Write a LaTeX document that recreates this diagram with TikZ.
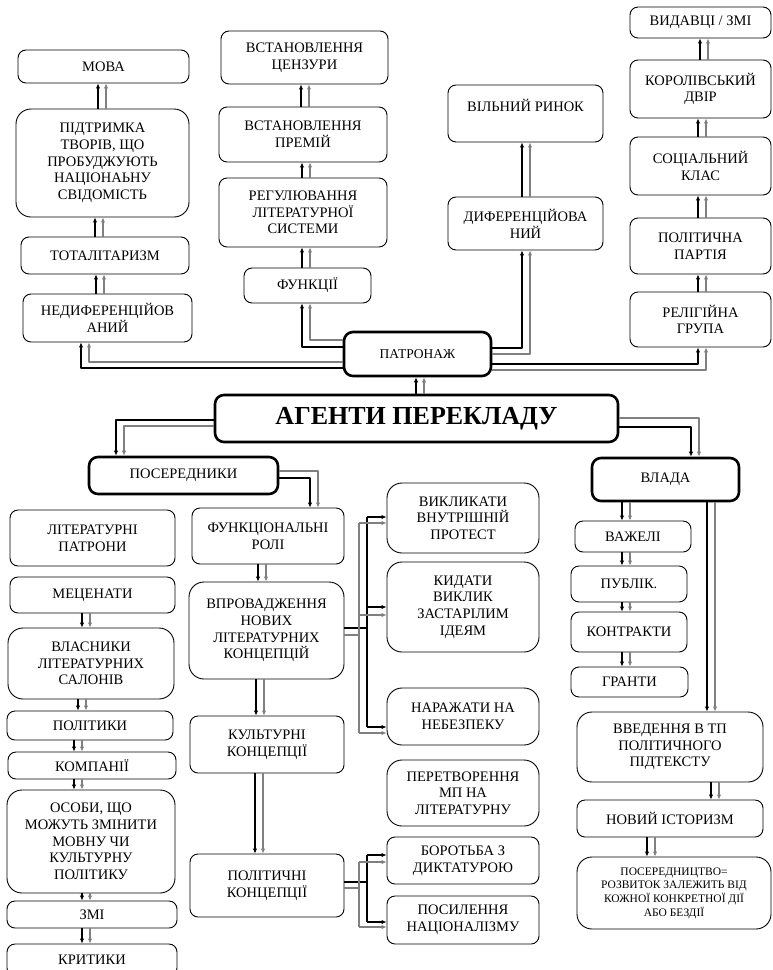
\documentclass[tikz,border=0pt]{standalone}
\usepackage{fontspec}
\setmainfont{Liberation Serif}
\usepackage{tikz}
\usetikzlibrary{arrows.meta,positioning,calc}

\definecolor{linegray}{HTML}{808080}
\tikzset{
  box/.style={draw,line width=0.9pt,rounded corners=8pt,align=center,inner sep=1pt,
    font=\fontsize{14.5}{16.7}\selectfont},
  tall/.style={box,rounded corners=15pt},
  thickbox/.style={box,line width=2.6pt,rounded corners=9pt},
  blk/.style={line width=1.3pt,black,-{Latex[length=5pt,width=4.5pt]}},
  gry/.style={line width=1.3pt,linegray,-{Latex[length=5pt,width=4.5pt]}},
  blkline/.style={line width=1.3pt,black},
  gryline/.style={line width=1.3pt,linegray},
}

\begin{document}
\begin{tikzpicture}[x=1pt,y=-1pt,line join=round]
  \useasboundingbox (0,0) rectangle (773,970);
  % patronage branch
  \node[box,minimum width=171pt,minimum height=33pt] (mova) at (103.5,66.5) {МОВА};
  \node[tall,minimum width=173pt,minimum height=108pt] (pidtr) at (102.5,163) {ПІДТРИМКА\\ТВОРІВ, ЩО\\ПРОБУДЖУЮТЬ\\НАЦІОНАЬНУ\\СВІДОМІСТЬ};
  \node[box,minimum width=168pt,minimum height=37pt] (total) at (105,255.5) {ТОТАЛІТАРИЗМ};
  \node[box,minimum width=169pt,minimum height=48pt] (nedyf) at (107.5,318) {НЕДИФЕРЕНЦІЙОВ\\АНИЙ};
  \node[box,minimum width=167pt,minimum height=53pt] (cenz) at (304.5,57.5) {ВСТАНОВЛЕННЯ\\ЦЕНЗУРИ};
  \node[box,minimum width=168pt,minimum height=55pt] (prem) at (303,134.5) {ВСТАНОВЛЕННЯ\\ПРЕМІЙ};
  \node[box,minimum width=168pt,minimum height=69pt] (regul) at (303,212.5) {РЕГУЛЮВАННЯ\\ЛІТЕРАТУРНОЇ\\СИСТЕМИ};
  \node[box,minimum width=127pt,minimum height=35pt] (funk) at (307.5,285.5) {ФУНКЦІЇ};
  \node[thickbox,minimum width=147pt,minimum height=44pt,font=\fontsize{13.5}{16}\selectfont] (patr) at (417.5,354) {ПАТРОНАЖ};
  \node[box,minimum width=155pt,minimum height=57pt] (rynok) at (525.5,113.5) {ВІЛЬНИЙ РИНОК\\~};
  \node[box,minimum width=155pt,minimum height=53pt] (dyf) at (525.5,223.5) {ДИФЕРЕНЦІЙОВА\\НИЙ};
  \node[box,minimum width=141pt,minimum height=31pt] (vyd) at (700.5,22.5) {ВИДАВЦІ / ЗМІ};
  \node[box,minimum width=141pt,minimum height=58pt] (korol) at (700.5,89) {КОРОЛІВСЬКИЙ\\ДВІР};
  \node[box,minimum width=141pt,minimum height=58pt] (soc) at (700.5,166) {СОЦІАЛЬНИЙ\\КЛАС};
  \node[box,minimum width=141pt,minimum height=56pt] (polit) at (700.5,246) {ПОЛІТИЧНА\\ПАРТІЯ};
  \node[box,minimum width=141pt,minimum height=55pt] (relig) at (700.5,319.5) {РЕЛІГІЙНА\\ГРУПА};
  % root
  \node[thickbox,minimum width=403pt,minimum height=47pt,font=\fontsize{26}{30}\selectfont\bfseries] (agent) at (416.5,418.5) {АГЕНТИ ПЕРЕКЛАДУ};
  % mediators
  \node[thickbox,minimum width=189pt,minimum height=37pt] (poser) at (183.5,475.5) {ПОСЕРЕДНИКИ};
  \node[box,minimum width=165pt,minimum height=56pt] (patrony) at (92.5,538) {ЛІТЕРАТУРНІ\\ПАТРОНИ};
  \node[box,minimum width=165pt,minimum height=36pt] (mecen) at (92.5,595) {МЕЦЕНАТИ};
  \node[tall,minimum width=166pt,minimum height=71pt] (vlasn) at (91,663.5) {ВЛАСНИКИ\\ЛІТЕРАТУРНИХ\\САЛОНІВ};
  \node[box,minimum width=166pt,minimum height=29pt] (polityky) at (90,725.5) {ПОЛІТИКИ};
  \node[box,minimum width=168pt,minimum height=27pt] (komp) at (92,765.5) {КОМПАНІЇ};
  \node[tall,minimum width=168pt,minimum height=103pt] (osoby) at (91,841.5) {ОСОБИ, ЩО\\МОЖУТЬ ЗМІНИТИ\\МОВНУ ЧИ\\КУЛЬТУРНУ\\ПОЛІТИКУ};
  \node[box,minimum width=170pt,minimum height=27pt] (zmi) at (92,914.5) {ЗМІ};
  \node[box,minimum width=170pt,minimum height=32pt] (kryt) at (92,960) {КРИТИКИ};
  \node[box,minimum width=152pt,minimum height=56pt] (funkc) at (268,536) {ФУНКЦІОНАЛЬНІ\\РОЛІ};
  \node[tall,minimum width=155pt,minimum height=97pt] (vprov) at (266.5,630.5) {ВПРОВАДЖЕННЯ\\НОВИХ\\ЛІТЕРАТУРНИХ\\КОНЦЕПЦІЙ};
  \node[box,minimum width=154pt,minimum height=57pt] (kult) at (267,744.5) {КУЛЬТУРНІ\\КОНЦЕПЦІЇ};
  \node[box,minimum width=154pt,minimum height=63pt] (politk) at (267,885.5) {ПОЛІТИЧНІ\\КОНЦЕПЦІЇ};
  \node[tall,minimum width=152pt,minimum height=70pt] (vykl) at (463,518) {ВИКЛИКАТИ\\ВНУТРІШНІЙ\\ПРОТЕСТ};
  \node[tall,minimum width=152pt,minimum height=90pt] (kyd) at (463,607) {КИДАТИ\\ВИКЛИК\\ЗАСТАРІЛИМ\\ІДЕЯМ};
  \node[tall,minimum width=152pt,minimum height=57pt] (narazh) at (463,716.5) {НАРАЖАТИ НА\\НЕБЕЗПЕКУ};
  \node[tall,minimum width=152pt,minimum height=66pt] (peretv) at (463,793) {ПЕРЕТВОРЕННЯ\\МП НА\\ЛІТЕРАТУРНУ};
  \node[box,minimum width=152pt,minimum height=47pt] (borot) at (463,860.5) {БОРОТЬБА З\\ДИКТАТУРОЮ};
  \node[box,minimum width=152pt,minimum height=48pt] (posyl) at (463,920) {ПОСИЛЕННЯ\\НАЦІОНАЛІЗМУ};
  % power
  \node[thickbox,minimum width=147pt,minimum height=43pt] (vlada) at (665.5,479.5) {ВЛАДА};
  \node[box,minimum width=116pt,minimum height=31pt] (vazh) at (633,536.5) {ВАЖЕЛІ};
  \node[box,minimum width=116pt,minimum height=36pt] (publ) at (629,584) {ПУБЛІК.};
  \node[box,minimum width=116pt,minimum height=40pt] (kontr) at (629,632) {КОНТРАКТИ};
  \node[box,minimum width=117pt,minimum height=30pt] (grant) at (629.5,682) {ГРАНТИ};
  \node[tall,minimum width=186pt,minimum height=70pt] (vved) at (670,747) {ВВЕДЕННЯ В ТП\\ПОЛІТИЧНОГО\\ПІДТЕКСТУ};
  \node[box,minimum width=186pt,minimum height=37pt] (novyi) at (670,818.5) {НОВИЙ ІСТОРИЗМ};
  \node[tall,minimum width=194pt,minimum height=72pt,font=\fontsize{11.5}{13.7}\selectfont] (poserc) at (674,893) {ПОСЕРЕДНИЦТВО=\\РОЗВИТОК ЗАЛЕЖИТЬ ВІД\\КОЖНОЇ КОНКРЕТНОЇ ДІЇ\\АБО БЕЗДІЇ};

  % straight double arrows, upwards and downwards
  \foreach \a/\b/\x [evaluate=\x as \g using \x+8] in {pidtr/mova/98,total/pidtr/95,nedyf/total/96,funk/regul/302,regul/prem/302,prem/cenz/301,dyf/rynok/522,relig/polit/698,polit/soc/698,soc/korol/698,korol/vyd/700,agent/patr/416}{
    \draw[blk] (\a.north -| \x,0) -- (\b.south -| \x,0);
    \draw[gry] (\a.north -| \g,0) -- (\b.south -| \g,0);}
  \foreach \a/\b/\x [evaluate=\x as \g using \x+8] in {funkc/vprov/258,vprov/kult/256,kult/politk/255,vlada/vazh/622,vazh/publ/622,publ/kontr/622,kontr/grant/622,vlada/vved/707,vved/novyi/711,novyi/poserc/647,mecen/vlasn/82,vlasn/polityky/78,polityky/komp/74,komp/osoby/74,osoby/zmi/82,zmi/kryt/82}{
    \draw[blk] (\a.south -| \x,0) -- (\b.north -| \x,0);
    \draw[gry] (\a.south -| \g,0) -- (\b.north -| \g,0);}

  % elbow connectors
  \draw[blk] (patr.west |- 0,368) -| (nedyf.south -| 81,0);
  \draw[gry] (patr.west |- 0,362) -| (nedyf.south -| 89,0);
  \draw[blk] (patr.west |- 0,347) -| (funk.south -| 302,0);
  \draw[gry] (patr.west |- 0,340) -| (funk.south -| 310,0);
  \draw[blk] (patr.east |- 0,348) -| (dyf.south -| 522,0);
  \draw[gry] (patr.east |- 0,354) -| (dyf.south -| 530,0);
  \draw[blk] (patr.east |- 0,364) -| (relig.south -| 698,0);
  \draw[gry] (patr.east |- 0,370) -| (relig.south -| 706,0);
  \draw[blk] (agent.west |- 0,420) -| (poser.north -| 116,0);
  \draw[gry] (agent.west |- 0,426) -| (poser.north -| 124,0);
  \draw[blk] (agent.east |- 0,427) -| (vlada.north -| 691,0);
  \draw[gry] (agent.east |- 0,418) -| (vlada.north -| 699,0);
  \draw[blk] (poser.east |- 0,478) -| (funkc.north -| 310,0);
  \draw[gry] (poser.east |- 0,471) -| (funkc.north -| 318,0);

  % branching from the concept boxes
  \coordinate (jb) at (367,0);
  \coordinate (jg) at (359,0);
  \draw[blkline] (vprov.east |- 0,628) -- (jb |- 0,628) (jb |- 0,517) -- (jb |- 0,727);
  \draw[gryline] (vprov.east |- 0,635) -- (jg |- 0,635) (jg |- 0,523) -- (jg |- 0,733);
  \foreach \n/\y/\z in {vykl/517/523,kyd/607/615,narazh/727/733}{
    \draw[blk] (jb |- 0,\y) -- (\n.west |- 0,\y);
    \draw[gry] (jg |- 0,\z) -- (\n.west |- 0,\z);}
  \draw[blkline] (politk.east |- 0,882) -- (jb |- 0,882) (jb |- 0,855) -- (jb |- 0,922);
  \draw[gryline] (politk.east |- 0,888) -- (jg |- 0,888) (jg |- 0,862) -- (jg |- 0,927);
  \foreach \n/\y/\z in {borot/855/862,posyl/922/927}{
    \draw[blk] (jb |- 0,\y) -- (\n.west |- 0,\y);
    \draw[gry] (jg |- 0,\z) -- (\n.west |- 0,\z);}
\end{tikzpicture}
\end{document}
